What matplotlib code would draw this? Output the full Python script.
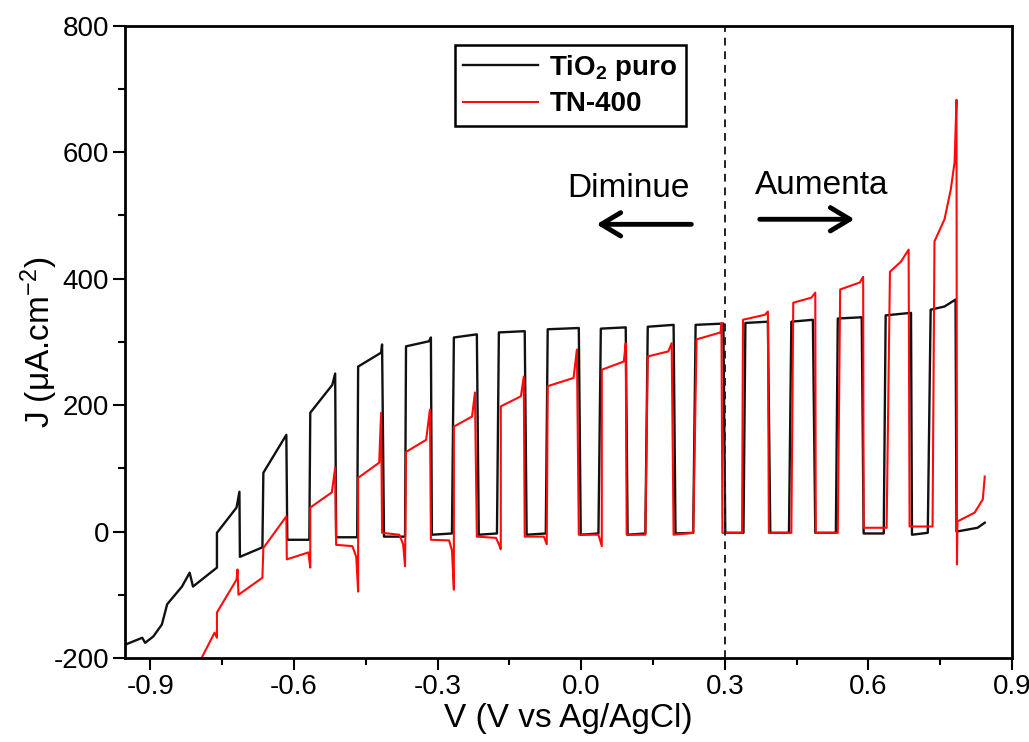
import matplotlib
matplotlib.use('Agg')
import matplotlib.pyplot as plt
from matplotlib import font_manager
from matplotlib.ticker import MultipleLocator

# chopped-light LSV, values
tio2_v = [-0.953, -0.917, -0.911, -0.894, -0.876, -0.865, -0.834, -0.818, -0.811, -0.766,
          -0.761, -0.761, -0.720, -0.714, -0.713, -0.666, -0.664, -0.616, -0.614, -0.568,
          -0.566, -0.520, -0.514, -0.512, -0.468, -0.466, -0.418, -0.416, -0.412, -0.368,
          -0.366, -0.318, -0.314, -0.312, -0.270, -0.266, -0.218, -0.214, -0.176, -0.172,
          -0.118, -0.114, -0.074, -0.070, -0.005, -0.001, 0.036, 0.041, 0.093, 0.097,
          0.134, 0.139, 0.193, 0.197, 0.234, 0.239, 0.297, 0.301, 0.339, 0.343,
          0.390, 0.395, 0.434, 0.439, 0.484, 0.489, 0.532, 0.536, 0.586, 0.590,
          0.632, 0.636, 0.689, 0.691, 0.724, 0.730, 0.759, 0.782, 0.784, 0.828, 0.843]
tio2_j = [-179, -168, -176, -166, -147, -115, -87, -65, -87, -60,
          -57, -2, 38, 63, -40, -25, 93, 153, -13, -13,
          188, 232, 250, -9, -9, 261, 283, 296, -8, -8,
          293, 301, 307, -5, -3, 307, 312, -5, -3, 315,
          317, -5, -3, 320, 322, -5, -3, 321, 323, -5,
          -3, 324, 327, -3, -2, 327, 329, -2, -2, 330,
          332, -2, -2, 332, 335, -2, -2, 337, 339, -3,
          -3, 342, 346, -5, -2, 351, 356, 367, 0, 6, 14]

tn400_v = [-0.810, -0.766, -0.761, -0.761, -0.720, -0.718, -0.716, -0.666, -0.664, -0.616,
           -0.615, -0.570, -0.566, -0.566, -0.521, -0.514, -0.512, -0.478, -0.470, -0.466,
           -0.466, -0.422, -0.418, -0.416, -0.380, -0.372, -0.368, -0.366, -0.324, -0.316,
           -0.314, -0.276, -0.270, -0.266, -0.266, -0.228, -0.222, -0.218, -0.178, -0.172,
           -0.168, -0.168, -0.126, -0.120, -0.118, -0.078, -0.072, -0.070, -0.016, -0.009,
           -0.005, 0.036, 0.043, 0.043, 0.089, 0.093, 0.095, 0.134, 0.139, 0.182,
           0.189, 0.193, 0.234, 0.241, 0.291, 0.293, 0.295, 0.336, 0.338, 0.384,
           0.390, 0.392, 0.439, 0.443, 0.481, 0.489, 0.490, 0.536, 0.541, 0.582,
           0.589, 0.590, 0.638, 0.645, 0.668, 0.684, 0.686, 0.734, 0.738, 0.759,
           0.772, 0.780, 0.784, 0.785, 0.786, 0.822, 0.839, 0.843]
tn400_j = [-225, -160, -168, -128, -76, -60, -100, -73, -26, 24,
           -44, -33, -57, 38, 62, 101, -21, -23, -40, -95,
           85, 109, 188, -2, -5, -20, -55, 126, 145, 193,
           -13, -14, -30, -92, 166, 182, 220, -8, -10, -20,
           -28, 198, 214, 245, -8, -8, -20, 230, 243, 288,
           -5, -5, -23, 256, 269, 298, -5, -5, 277, 285,
           298, -5, -2, 304, 315, 330, -2, -2, 335, 343,
           348, -2, -2, 362, 370, 378, -2, -2, 383, 394,
           403, 6, 6, 411, 427, 446, 8, 8, 459, 494,
           541, 584, 683, -52, 16, 30, 51, 87]

legend_labels = ['TiO$_2$ puro', 'TN-400']
x_ticks = [-0.9, -0.6, -0.3, 0.0, 0.3, 0.6, 0.9]
y_ticks = [-200, 0, 200, 400, 600, 800]

names = {f.name for f in font_manager.fontManager.ttflist}
fam = 'Liberation Sans' if 'Liberation Sans' in names else 'DejaVu Sans'
plt.rcParams['font.family'] = [fam, 'DejaVu Sans']
plt.rcParams['mathtext.default'] = 'regular'
plt.rcParams['axes.unicode_minus'] = False

fig = plt.figure(figsize=(10.29, 7.42), dpi=100)
ax = fig.add_axes([0.1215, 0.1132, 0.862, 0.852])

ax.plot(tio2_v, tio2_j, color='#111111', lw=1.7, label=legend_labels[0])
ax.plot(tn400_v, tn400_j, color='#ff0a0a', lw=1.5, label=legend_labels[1])
ax.axvline(0.3, color='#222222', lw=1.4, ls=(0, (4, 3)))

ax.set_xlim(-0.953, 0.9)
ax.set_ylim(-200, 800)
ax.set_xticks(x_ticks)
ax.set_xticklabels([f'{t:.1f}' for t in x_ticks])
ax.set_yticks(y_ticks)
ax.set_yticklabels([str(t) for t in y_ticks])
ax.xaxis.set_minor_locator(MultipleLocator(0.15))
ax.yaxis.set_minor_locator(MultipleLocator(100))
ax.tick_params(which='major', direction='out', length=8.5, width=1.5, labelsize=20, pad=3)
ax.tick_params(which='minor', direction='out', length=5, width=1.5)
for s in ax.spines.values():
    s.set_linewidth(2)

ax.set_xlabel('V (V vs Ag/AgCl)', fontsize=24, labelpad=2)
ax.set_ylabel('J (μA.cm$^{-2}$)', fontsize=24, labelpad=-5)

ax.text(0.099, 543, 'Diminue', fontsize=24, ha='center', va='center')
ax.text(0.503, 547, 'Aumenta', fontsize=24, ha='center', va='center')
ax.annotate('', xy=(0.032, 486), xytext=(0.230, 486),
            arrowprops=dict(arrowstyle='->,head_length=0.5,head_width=0.3', lw=3.5,
                            color='k', mutation_scale=28, shrinkA=0, shrinkB=0))
ax.annotate('', xy=(0.571, 494), xytext=(0.373, 494),
            arrowprops=dict(arrowstyle='->,head_length=0.5,head_width=0.3', lw=3.5,
                            color='k', mutation_scale=28, shrinkA=0, shrinkB=0))

leg = ax.legend(loc='upper left', bbox_to_anchor=(0.372, 0.970), fancybox=False,
                edgecolor='k', framealpha=1, prop={'size': 20, 'weight': 'bold'},
                handlelength=2.7, handletextpad=0.4, labelspacing=0.3, borderpad=0.3,
                borderaxespad=0)
leg.get_frame().set_linewidth(1.8)

fig.savefig('out.png', dpi=100)
